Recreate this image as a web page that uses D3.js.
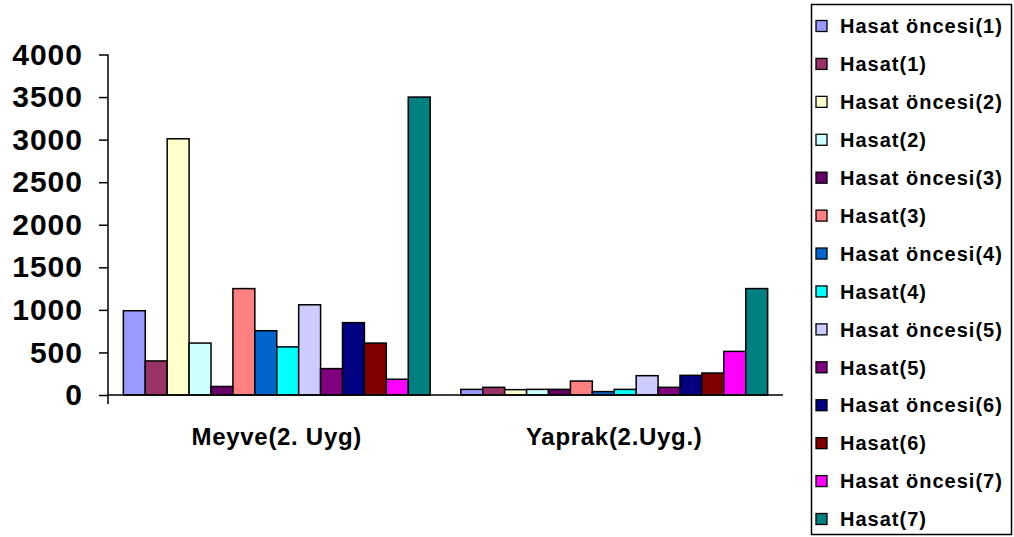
<!DOCTYPE html>
<html>
<head>
<meta charset="utf-8">
<script src="https://cdn.jsdelivr.net/npm/d3@7"></script>
<style>
  html, body { margin: 0; padding: 0; background: #ffffff; }
  svg { display: block; }
  text { font-family: "Liberation Sans", Arial, sans-serif; font-weight: bold; fill: #000; }
</style>
</head>
<body>
<svg id="chart" width="1014" height="537"></svg>
<script>
// Categories on the x axis
const categories = ["Meyve(2. Uyg)", "Yaprak(2.Uyg.)"];

// Series names, in legend order
const seriesNames = [
  "Hasat öncesi(1)", "Hasat(1)",
  "Hasat öncesi(2)", "Hasat(2)",
  "Hasat öncesi(3)", "Hasat(3)",
  "Hasat öncesi(4)", "Hasat(4)",
  "Hasat öncesi(5)", "Hasat(5)",
  "Hasat öncesi(6)", "Hasat(6)",
  "Hasat öncesi(7)", "Hasat(7)"
];

// Values per series for each category
const meyveValues  = [990, 400, 3010, 610, 100, 1250, 755, 565, 1060, 310, 850, 610, 185, 3500];
const yaprakValues = [66, 90, 63, 66, 66, 164, 40, 66, 227, 90, 231, 258, 512, 1250];

// Series fill colours
const seriesColors = [
  "#9999FF", "#993366", "#FFFFCC", "#CCFFFF", "#660066", "#FF8080", "#0066CC",
  "#00FFFF", "#CCCCFF", "#800080", "#000080", "#800000", "#FF00FF", "#008080"
];

// Y axis tick values
const yTicks = [0, 500, 1000, 1500, 2000, 2500, 3000, 3500, 4000];

const valuesByCategory = [meyveValues, yaprakValues];
const rows = categories.map((c, i) => ({
  category: c,
  values: seriesNames.map((s, j) => ({ series: s, value: valuesByCategory[i][j] }))
}));

const svg = d3.select("#chart");

const y = d3.scaleLinear().domain([0, 4000]).range([395, 54.5]);
const x0 = d3.scaleBand().domain(categories).range([108, 783]).padding(0);
const x1 = d3.scaleBand().domain(seriesNames).range([0, x0.bandwidth()])
  .paddingInner(0).paddingOuter(0.7);
const color = d3.scaleOrdinal().domain(seriesNames).range(seriesColors);

// Bars
const groups = svg.append("g").selectAll("g")
  .data(rows).join("g")
  .attr("transform", d => `translate(${x0(d.category)},0)`);

groups.selectAll("rect")
  .data(d => d.values).join("rect")
  .attr("x", d => x1(d.series))
  .attr("y", d => y(d.value))
  .attr("width", x1.bandwidth())
  .attr("height", d => y(0) - y(d.value))
  .attr("fill", d => color(d.series))
  .attr("stroke", "#000")
  .attr("stroke-width", 1.5);

// Y axis
const yAxis = svg.append("g")
  .attr("transform", "translate(108,0)")
  .call(d3.axisLeft(y).tickValues(yTicks).tickSize(9).tickSizeOuter(0).tickPadding(17)
    .tickFormat(d3.format("d")));
yAxis.select(".domain").remove();
yAxis.selectAll(".tick line").attr("stroke", "#000").attr("stroke-width", 1.5);
yAxis.selectAll(".tick text")
  .style("font-size", "30px")
  .style("letter-spacing", "1px")
  .attr("dx", "1px");
svg.append("line")
  .attr("x1", 108).attr("x2", 108)
  .attr("y1", y(4000)).attr("y2", y(0) + 9)
  .attr("stroke", "#000").attr("stroke-width", 1.5);

// X axis
const xAxis = svg.append("g")
  .attr("transform", `translate(0,${y(0)})`)
  .call(d3.axisBottom(x0).tickSize(0).tickSizeOuter(0).tickPadding(33));
xAxis.select(".domain").remove();
xAxis.selectAll(".tick text")
  .style("font-size", "24px")
  .style("letter-spacing", "0.7px");
svg.append("line")
  .attr("x1", 108).attr("x2", 783)
  .attr("y1", y(0)).attr("y2", y(0))
  .attr("stroke", "#000").attr("stroke-width", 1.5);

// Legend
const legend = svg.append("g");
legend.append("rect")
  .attr("x", 811.5).attr("y", 4.5)
  .attr("width", 200).attr("height", 530)
  .attr("fill", "#fff").attr("stroke", "#000").attr("stroke-width", 1.5);

const legendY = d3.scalePoint().domain(seriesNames).range([26, 519]);
const items = legend.selectAll("g.item")
  .data(seriesNames).join("g")
  .attr("class", "item")
  .attr("transform", d => `translate(0,${legendY(d)})`);
items.append("rect")
  .attr("x", 816).attr("y", -5.5)
  .attr("width", 11).attr("height", 11)
  .attr("fill", d => color(d))
  .attr("stroke", "#000").attr("stroke-width", 1.3);
items.append("text")
  .attr("x", 840).attr("y", 0).attr("dy", "0.36em")
  .style("font-size", "20px")
  .style("letter-spacing", "1px")
  .text(d => d);
</script>
</body>
</html>
